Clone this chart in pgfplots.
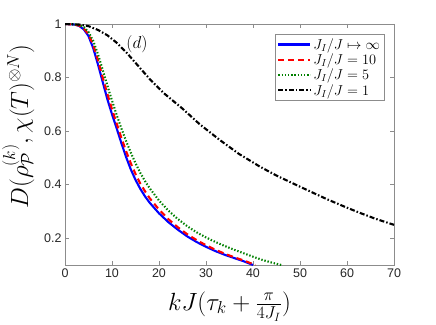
\documentclass[border=0pt]{standalone}
\usepackage[no-math]{fontspec}
\newfontfamily\ticksf{Liberation Sans}
\usepackage{pgfplots}
\pgfplotsset{compat=1.18}
\definecolor{axgray}{RGB}{140,140,140}
\definecolor{txtgray}{RGB}{38,38,38}
\definecolor{mgreen}{RGB}{0,128,0}

\begin{document}
\begin{tikzpicture}
\begin{axis}[
  scale only axis,
  width=329pt, height=241pt,
  xmin=0, xmax=70, ymin=0.1, ymax=1,
  xtick={0,10,...,70},
  ytick={0.2,0.4,0.6,0.8,1},
  yticklabels={0.2,0.4,0.6,0.8,1},
  tick align=inside,
  major tick length=4pt,
  axis line style={axgray, line width=0.9pt},
  every tick/.style={axgray, line width=0.6pt},
  tick label style={font=\ticksf\fontsize{12.5}{14}\selectfont, text=txtgray},
  /pgf/number format/assume math mode=true,
  xlabel={$kJ(\tau_k+\frac{\pi}{4J_I})$},
  ylabel={$D(\rho_{\mathcal{P}}^{(k)},\chi(T)^{\otimes N})$},
  label style={font=\fontsize{24}{28}\selectfont},
  x label style={at={(axis description cs:0.5,-0.172)}, anchor=center},
  y label style={at={(axis description cs:-0.142,0.575)}, anchor=center},
  legend style={at={(0.970,0.958)}, anchor=north east,
                font=\fontsize{14}{16}\selectfont,
                draw=axgray, fill=white, inner sep=2pt,
                row sep=-1pt},
  legend cell align=left,
  legend image code/.code={\draw[#1] (0pt,0pt) -- (32pt,0pt);},
  clip=true,
]
\addplot[blue, line width=2.1pt] coordinates {
(0,1)(2,0.998)(3,0.993)(4,0.98)(5,0.955)(6,0.91)(7,0.85)(8,0.785)(9,0.72)
(10,0.663)(11,0.61)(12,0.555)(13,0.503)(14,0.457)(15,0.418)(16,0.385)
(17,0.357)(18,0.333)(20,0.293)(22,0.26)(24,0.232)(26,0.207)(28,0.186)
(30,0.168)(32,0.152)(34,0.138)(36,0.126)(38,0.114)(40,0.1)};
\addlegendentry{$J_I/J\mapsto\infty$}
\addplot[red, line width=2.1pt, dash pattern=on 6pt off 4pt] coordinates {
(0,1)(2,0.998)(3,0.994)(4,0.983)(5,0.962)(6,0.922)(7,0.866)(8,0.802)(9,0.74)
(10,0.682)(11,0.628)(12,0.575)(13,0.525)(14,0.48)(15,0.44)(16,0.405)
(17,0.376)(18,0.35)(20,0.307)(22,0.271)(24,0.241)(26,0.215)(28,0.193)
(30,0.174)(32,0.157)(34,0.142)(36,0.129)(38,0.117)(40.5,0.1)};
\addlegendentry{$J_I/J=10$}
\addplot[mgreen, line width=2.1pt, dash pattern=on 1.4pt off 1.8pt] coordinates {
(0,1)(2,0.999)(3,0.996)(4,0.988)(5,0.97)(6,0.937)(7,0.888)(8,0.83)(9,0.771)
(10,0.714)(11,0.66)(12,0.61)(13,0.563)(14,0.52)(15,0.48)(16,0.445)
(17,0.414)(18,0.387)(20,0.341)(22,0.303)(24,0.272)(26,0.245)(28,0.222)
(30,0.203)(32,0.186)(34,0.171)(36,0.157)(38,0.144)(40,0.131)(42,0.119)
(44,0.109)(46,0.1)};
\addlegendentry{$J_I/J=5$}
\addplot[black, line width=2.1pt, dash pattern=on 5pt off 2pt on 1.5pt off 2pt] coordinates {
(0,1)(3,0.998)(5,0.992)(7,0.978)(9,0.958)(11,0.93)(13,0.895)(15,0.855)
(18,0.795)(21,0.742)(25,0.684)(28.7,0.625)(33,0.566)(37,0.515)(41.5,0.467)
(45,0.434)(48.6,0.404)(52,0.376)(55.7,0.346)(60,0.314)(63,0.293)
(66,0.273)(70,0.25)};
\addlegendentry{$J_I/J=1$}
\node[font=\fontsize{17}{19}\selectfont] at (axis cs:15.3,0.923) {$(d)$};
\end{axis}
\path (current axis.south west) ++(-65pt,-59pt) coordinate (bl);
\path (current axis.north east) ++(42pt,24pt) coordinate (tr);
\pgfresetboundingbox
\useasboundingbox (bl) rectangle (tr);
\end{tikzpicture}
\end{document}
